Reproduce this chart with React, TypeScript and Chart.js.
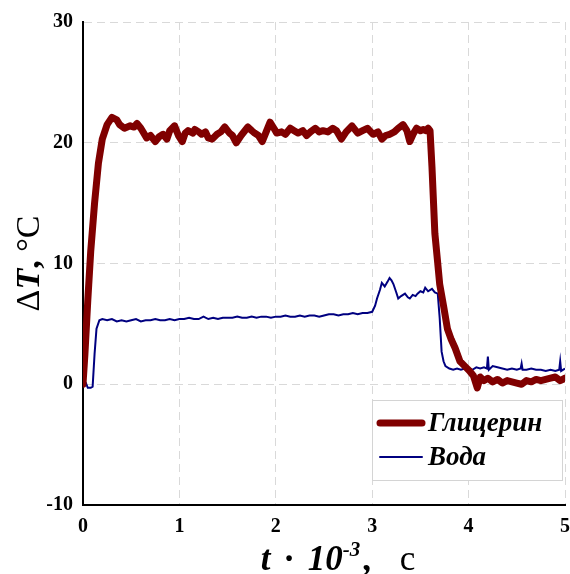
import React, { useEffect, useRef } from "react";
import { Chart, registerables } from "chart.js";

Chart.register(...registerables);

// ---- data (t · 10^-3 s, ΔT °C) ----
const seriesNames = ["Глицерин", "Вода"];
const seriesColors = ["#800000", "#000080"];

const glycerinT = [
  0, 0.02, 0.05, 0.08, 0.12, 0.16, 0.2, 0.25, 0.3, 0.35, 0.38, 0.43, 0.49, 0.53, 0.56, 0.6, 0.66, 0.7, 0.75, 0.79,
  0.83, 0.87, 0.9, 0.95, 0.99, 1.03, 1.06, 1.09, 1.14, 1.16, 1.2, 1.23, 1.27, 1.3, 1.34, 1.39, 1.43, 1.47, 1.52, 1.55,
  1.59, 1.64, 1.71, 1.75, 1.78, 1.82, 1.86, 1.9, 1.94, 1.98, 2.01, 2.06, 2.1, 2.15, 2.19, 2.23, 2.28, 2.32, 2.36, 2.41,
  2.45, 2.49, 2.54, 2.59, 2.63, 2.68, 2.73, 2.79, 2.85, 2.9, 2.95, 3.01, 3.06, 3.1, 3.14, 3.18, 3.23, 3.27, 3.32, 3.36,
  3.39, 3.43, 3.46, 3.5, 3.53, 3.56, 3.58, 3.6, 3.62, 3.65, 3.68, 3.7, 3.74, 3.78, 3.82, 3.86, 3.91, 3.96, 4.01, 4.05,
  4.09, 4.12, 4.16, 4.2, 4.25, 4.3, 4.35, 4.4, 4.45, 4.5, 4.55, 4.6, 4.65, 4.7, 4.75, 4.8, 4.85, 4.9, 4.95, 5.0,
];
const glycerinDT = [
  0, 2.5, 7, 11, 15, 18.3, 20.3, 21.5, 22.1, 21.9, 21.5, 21.2, 21.4, 21.3, 21.6, 21.2, 20.4, 20.6, 20.1, 20.5,
  20.7, 20.3, 21.0, 21.4, 20.6, 20.1, 20.8, 21.0, 20.8, 21.1, 20.9, 20.7, 20.9, 20.4, 20.3, 20.7, 20.9, 21.3, 20.8, 20.6,
  20.0, 20.6, 21.3, 21.0, 20.8, 20.6, 20.1, 20.9, 21.7, 21.2, 20.8, 20.9, 20.7, 21.2, 21.0, 20.8, 21.0, 20.6, 20.9, 21.2,
  20.9, 21.0, 20.9, 21.2, 21.0, 20.3, 20.9, 21.4, 20.8, 21.0, 21.2, 20.7, 20.9, 20.3, 20.6, 20.7, 20.9, 21.2, 21.5, 21.0,
  20.1, 20.8, 21.2, 21.0, 21.1, 21.0, 21.2, 21.0, 18.0, 12.5, 10.0, 8.3, 6.5, 4.6, 3.7, 3.0, 1.9, 1.5, 1.1, 0.7,
  -0.3, 0.6, 0.3, 0.5, 0.2, 0.4, 0.1, 0.3, 0.2, 0.1, 0.0, 0.3, 0.2, 0.4, 0.3, 0.4, 0.5, 0.6, 0.3, 0.5,
];

const waterT = [
  0, 0.03, 0.05, 0.08, 0.1, 0.12, 0.14, 0.17, 0.2, 0.25, 0.3, 0.35, 0.4, 0.45, 0.5, 0.55, 0.6, 0.65, 0.7, 0.75,
  0.8, 0.85, 0.9, 0.95, 1.0, 1.05, 1.1, 1.15, 1.2, 1.25, 1.3, 1.35, 1.4, 1.45, 1.5, 1.55, 1.6, 1.65, 1.7, 1.75,
  1.8, 1.85, 1.9, 1.95, 2.0, 2.05, 2.1, 2.15, 2.2, 2.25, 2.3, 2.35, 2.4, 2.45, 2.5, 2.55, 2.6, 2.65, 2.7, 2.75,
  2.8, 2.85, 2.9, 2.95, 3.0, 3.03, 3.05, 3.08, 3.1, 3.13, 3.16, 3.18, 3.2, 3.22, 3.25, 3.27, 3.3, 3.34, 3.37, 3.39,
  3.42, 3.45, 3.47, 3.5, 3.53, 3.55, 3.58, 3.62, 3.65, 3.68, 3.7, 3.72, 3.74, 3.76, 3.8, 3.84, 3.88, 3.92, 3.96, 4.0,
  4.04, 4.08, 4.12, 4.16, 4.19, 4.2, 4.21, 4.25, 4.3, 4.35, 4.4, 4.45, 4.5, 4.54, 4.55, 4.56, 4.6, 4.65, 4.7, 4.75,
  4.8, 4.85, 4.9, 4.94, 4.95, 4.96, 5.0,
];
const waterDT = [
  0, 0.1, -0.3, -0.3, -0.2, 2.5, 4.6, 5.3, 5.4, 5.3, 5.4, 5.2, 5.3, 5.2, 5.3, 5.4, 5.2, 5.3, 5.3, 5.4,
  5.3, 5.3, 5.4, 5.3, 5.4, 5.4, 5.5, 5.4, 5.4, 5.6, 5.4, 5.5, 5.4, 5.5, 5.5, 5.5, 5.6, 5.5, 5.5, 5.6,
  5.5, 5.6, 5.6, 5.5, 5.6, 5.6, 5.7, 5.6, 5.6, 5.7, 5.6, 5.7, 5.7, 5.6, 5.7, 5.8, 5.8, 5.7, 5.8, 5.8,
  5.9, 5.8, 5.9, 5.9, 6.0, 6.5, 7.1, 7.8, 8.4, 8.1, 8.5, 8.8, 8.6, 8.3, 7.6, 7.1, 7.3, 7.5, 7.2, 7.1,
  7.4, 7.3, 7.5, 7.7, 7.6, 8.0, 7.7, 7.9, 7.6, 7.5, 5.5, 2.7, 1.9, 1.5, 1.3, 1.2, 1.3, 1.2, 1.3, 1.3,
  1.2, 1.4, 1.3, 1.4, 1.3, 2.3, 1.2, 1.5, 1.4, 1.3, 1.2, 1.3, 1.2, 1.3, 1.7, 1.2, 1.2, 1.3, 1.2, 1.2,
  1.1, 1.2, 1.1, 1.2, 1.9, 1.1, 1.3,
];

const xMin = 0, xMax = 5, xStep = 1;
const yMin = -10, yMax = 30, yStep = 10;

const FAMILY = '"Liberation Serif", "Times New Roman", serif';

type Part = { text: string; font: string; dy?: number; gapL?: number; gapR?: number };

const xTitleParts: Part[] = [
  { text: "t", font: `italic bold 35px ${FAMILY}` },
  { text: " · ", font: `bold 35px ${FAMILY}`, gapL: 4, gapR: 4 },
  { text: "10", font: `italic bold 35px ${FAMILY}` },
  { text: "-3", font: `italic bold 21px ${FAMILY}`, dy: -14 },
  { text: ",", font: `bold 35px ${FAMILY}`, gapL: 2 },
  { text: " с", font: `35px ${FAMILY}`, gapL: 20 },
];
const yTitleParts: Part[] = [
  { text: "Δ", font: `34px ${FAMILY}` },
  { text: "T", font: `italic bold 34px ${FAMILY}` },
  { text: ",", font: `bold 34px ${FAMILY}` },
  { text: " °C", font: `34px ${FAMILY}` },
];

function drawParts(ctx: CanvasRenderingContext2D, parts: Part[], cx: number, baseline: number) {
  let total = 0;
  const widths = parts.map((p) => {
    ctx.font = p.font;
    const w = ctx.measureText(p.text).width + (p.gapL || 0) + (p.gapR || 0);
    total += w;
    return w;
  });
  let x = cx - total / 2;
  parts.forEach((p, i) => {
    ctx.font = p.font;
    ctx.fillText(p.text, x + (p.gapL || 0), baseline + (p.dy || 0));
    x += widths[i];
  });
}

const overlayPlugin = {
  id: "overlayTitlesLegend",
  afterDraw(chart: any) {
    const ctx: CanvasRenderingContext2D = chart.ctx;
    const a = chart.chartArea;
    ctx.save();
    ctx.fillStyle = "#000";
    ctx.textBaseline = "alphabetic";
    ctx.textAlign = "left";
    // x axis title
    drawParts(ctx, xTitleParts, (a.left + a.right) / 2 + 14, a.bottom + 65);
    // y axis title
    ctx.save();
    ctx.translate(a.left - 44, (a.top + a.bottom) / 2);
    ctx.rotate(-Math.PI / 2);
    drawParts(ctx, yTitleParts, 0, 0);
    ctx.restore();

    // legend box
    const bw = 190, bh = 80;
    const bx = a.right - 3 - bw;
    const by = a.bottom - 25 - bh;
    ctx.fillStyle = "#fff";
    ctx.fillRect(bx, by, bw, bh);
    ctx.strokeStyle = "#d4d4d4";
    ctx.lineWidth = 1;
    ctx.strokeRect(bx + 0.5, by + 0.5, bw, bh);
    const rows = [by + 23, by + 57];
    chart.data.datasets.forEach((ds: any, i: number) => {
      const y = rows[i];
      ctx.strokeStyle = ds.borderColor;
      ctx.lineWidth = ds.borderWidth;
      ctx.lineCap = "round";
      ctx.beginPath();
      ctx.moveTo(bx + 8, y);
      ctx.lineTo(bx + 50, y);
      ctx.stroke();
      ctx.fillStyle = "#000";
      ctx.font = `italic bold 27px ${FAMILY}`;
      ctx.textBaseline = "middle";
      ctx.fillText(ds.label, bx + 56, y + 1);
    });
    ctx.restore();
  },
};

export default function App() {
  const ref = useRef<HTMLCanvasElement | null>(null);
  useEffect(() => {
    document.body.style.margin = "0";
    document.body.style.overflow = "hidden";
    const canvas = ref.current!;
    const tickFont = { family: FAMILY, size: 20, weight: "bold" as const };
    const gridCommon = { color: "#d9d9d9", lineWidth: 1, drawTicks: false };
    const borderCommon = { display: true, color: "#000", width: 2, dash: [8, 5] };
    const chart = new Chart(canvas, {
      type: "line",
      data: {
        datasets: [
          {
            label: seriesNames[0],
            data: glycerinT.map((t, i) => ({ x: t, y: glycerinDT[i] })),
            borderColor: seriesColors[0],
            borderWidth: 7,
            pointRadius: 0,
            tension: 0,
            borderJoinStyle: "round",
            borderCapStyle: "round",
          },
          {
            label: seriesNames[1],
            data: waterT.map((t, i) => ({ x: t, y: waterDT[i] })),
            borderColor: seriesColors[1],
            borderWidth: 2,
            pointRadius: 0,
            tension: 0,
          },
        ],
      },
      options: {
        responsive: false,
        animation: false,
        devicePixelRatio: 1,
        layout: { padding: { top: 22, right: 5, left: 0, bottom: 0 } },
        plugins: { legend: { display: false }, tooltip: { enabled: false } },
        scales: {
          x: {
            type: "linear",
            min: xMin,
            max: xMax,
            ticks: { stepSize: xStep, font: tickFont, color: "#000", padding: 10, maxRotation: 0 },
            grid: gridCommon,
            border: borderCommon,
            afterFit: (s: any) => {
              s.height = 69;
              s.paddingLeft = 0;
              s.paddingRight = 0;
            },
          },
          y: {
            type: "linear",
            min: yMin,
            max: yMax,
            ticks: { stepSize: yStep, font: tickFont, color: "#000", padding: 10 },
            grid: gridCommon,
            border: borderCommon,
            afterFit: (s: any) => {
              s.width = 83;
              s.paddingTop = 0;
              s.paddingBottom = 0;
            },
          },
        },
      },
      plugins: [overlayPlugin],
    } as any);
    return () => chart.destroy();
  }, []);
  return (
    <div style={{ width: 570, height: 574, position: "relative" }}>
      <canvas ref={ref} width={570} height={574} style={{ display: "block" }} />
    </div>
  );
}
